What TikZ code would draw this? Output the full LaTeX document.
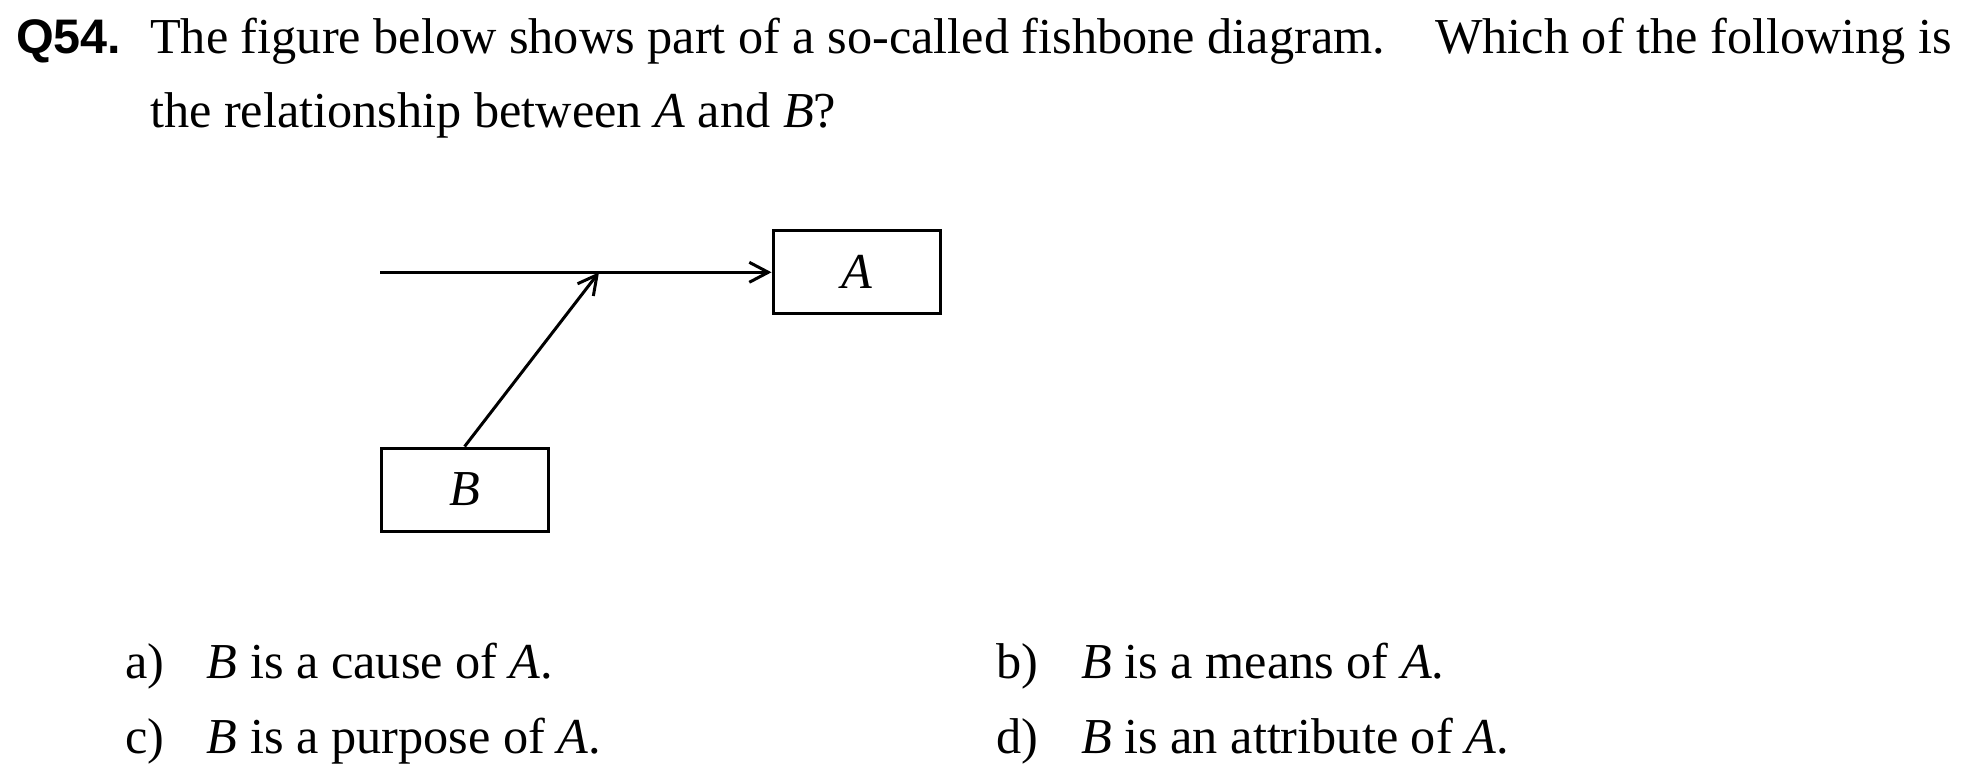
\documentclass[tikz,border=0pt]{standalone}
\usepackage{fontspec}
\setmainfont{Liberation Serif}
\newfontfamily\qfont{Liberation Sans}
\usetikzlibrary{arrows.meta}
\begin{document}
\begin{tikzpicture}[x=1pt,y=-1pt,
  txt/.style={anchor=base west,inner sep=0pt,font=\fontsize{50.3}{60}\selectfont},
  boxnode/.style={draw,line width=3pt,minimum width=167pt,minimum height=83pt,inner sep=0pt,font=\fontsize{50.3}{60}\selectfont\itshape},
  conn/.style={line width=3pt,-{Straight Barb[length=19pt,width=20pt,line width=3pt]}}]
\useasboundingbox[fill=white] (0,0) rectangle (1964,781);
\node[txt,font=\fontsize{48.5}{58}\selectfont\qfont\bfseries] (q) at (16,53.3) {Q54.};
\node[txt] (l1) at (150,53.3) {The figure below shows part of a so-called fishbone diagram.};
\node[txt] (l1b) at (1435,53.3) {Which of the following is};
\node[txt] (l2) at (150,128) {the relationship between \textit{A} and \textit{B}?};
\node[boxnode] (A) at (856.5,272.3) {A};
\node[boxnode] (B) at (464.6,489.5) {B};
\coordinate (start) at (380,272.3);
\coordinate (J) at (599,272.3);
\draw[conn] (start) -- (A.west);
\draw[conn] (B.north) -- (J);
\node[txt] (la) at (125,678.3) {a)};
\node[txt] (ta) at (206.7,678.3) {\textit{B} is a cause of \textit{A}.};
\node[txt] (lb) at (996,678.3) {b)};
\node[txt] (tb) at (1081,678.3) {\textit{B} is a means of \textit{A}.};
\node[txt] (lc) at (125,753.3) {c)};
\node[txt] (tc) at (206.7,753.3) {\textit{B} is a purpose of \textit{A}.};
\node[txt] (ld) at (996,753.3) {d)};
\node[txt] (td) at (1081,753.3) {\textit{B} is an attribute of \textit{A}.};
\end{tikzpicture}
\end{document}
